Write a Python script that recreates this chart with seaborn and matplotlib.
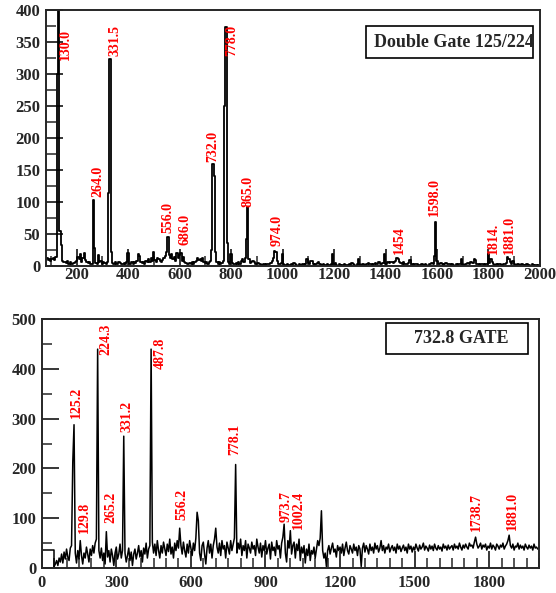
import numpy as np
import matplotlib
matplotlib.use("Agg")
import matplotlib.pyplot as plt
from matplotlib.patches import Rectangle
from matplotlib.ticker import MultipleLocator
import seaborn as sns

# ---- top panel: double gate 125/224, 5 keV bins from 80 keV ----
top_start, bin_w = 80, 5
top_counts = [
    10, 12, 9, 11, 8, 10, 12, 9, 14, 300, 420, 55, 32, 8, 5, 6, 4, 7, 3, 5,
    3, 2, 4, 6, 8, 14, 10, 18, 6, 12, 20, 9, 5, 4, 6, 3, 2, 103, 28, 4,
    3, 17, 5, 8, 3, 6, 4, 2, 5, 114, 324, 22, 4, 2, 5, 3, 2, 6, 4, 3,
    2, 4, 3, 5, 20, 3, 2, 5, 3, 6, 4, 8, 18, 15, 6, 4, 5, 3, 8, 6,
    10, 6, 12, 8, 22, 9, 6, 12, 10, 8, 5, 9, 12, 15, 22, 45, 16, 12, 18, 10,
    14, 8, 20, 12, 16, 20, 8, 14, 6, 4, 3, 2, 4, 3, 5, 2, 6, 8, 12, 9,
    10, 7, 12, 5, 4, 6, 3, 5, 8, 25, 159, 140, 22, 6, 3, 5, 2, 4, 8, 250,
    373, 36, 5, 3, 18, 4, 3, 2, 4, 2, 5, 3, 8, 10, 6, 12, 42, 92, 10, 4,
    6, 8, 5, 3, 2, 4, 3, 2, 1, 2, 3, 1, 2, 3, 2, 4, 8, 12, 23, 21,
    8, 3, 2, 4, 18, 3, 1, 0, 2, 1, 0, 2, 1, 4, 3, 1, 0, 2, 1, 0,
    2, 1, 3, 10, 4, 2, 8, 7, 3, 1, 2, 4, 6, 2, 1, 0, 2, 1, 0, 2,
    1, 0, 2, 19, 3, 4, 1, 0, 2, 1, 0, 1, 2, 0, 1, 0, 3, 1, 4, 2,
    1, 0, 2, 10, 2, 1, 3, 2, 1, 3, 2, 4, 3, 2, 1, 3, 4, 2, 3, 5,
    2, 3, 4, 19, 2, 3, 5, 4, 6, 5, 4, 6, 8, 12, 10, 5, 4, 3, 5, 2,
    3, 2, 4, 9, 3, 2, 1, 2, 3, 2, 1, 0, 2, 3, 1, 2, 1, 0, 3, 2,
    4, 3, 15, 69, 8, 3, 2, 4, 3, 1, 2, 4, 3, 2, 3, 1, 2, 1, 0, 2,
    1, 3, 2, 10, 2, 1, 3, 2, 4, 3, 5, 6, 4, 10, 9, 3, 2, 1, 2, 3,
    2, 1, 3, 2, 19, 4, 10, 5, 3, 1, 2, 1, 3, 2, 1, 0, 2, 3, 4, 14,
    10, 6, 3, 8, 2, 1, 0, 2, 1, 0, 2, 1, 0, 1, 2, 0, 1, 0, 2, 1,
    0, 1, 0, 1,
]
top_labels = ["130.0", "264.0", "331.5", "556.0", "686.0", "732.0", "778.0",
              "865.0", "974.0", "1454", "1598.0", "1814.", "1881.0"]
top_label_x = [155, 284, 349, 554, 621, 728, 802, 866, 977, 1456, 1592, 1818, 1880]
top_label_y = [322, 107, 328, 51, 32, 163, 328, 92, 31, 19, 78, 19, 19]

# ---- bottom panel: 732.8 gate; one wide bin 0-50, then 5 keV bins ----
bot_first_edges = [0, 50]
bot_first_vals = [37, 0]
bot_start = 50
bot_counts = [
    3, 8, 15, 5, 20, 12, 28, 10, 32, 18, 38, 22, 15, 40, 45, 213, 288, 30, 10, 35,
    18, 55, 25, 8, 30, 20, 42, 28, 12, 38, 25, 45, 30, 50, 58, 440, 35, 20, 40, 15,
    30, 8, 73, 22, 35, 12, 38, 25, 5, 30, 42, 18, 28, 48, 20, 35, 265, 30, 12, 25,
    40, 15, 32, 5, 28, 38, 18, 30, 45, 22, 35, 12, 40, 28, 50, 20, 38, 45, 440, 52,
    30, 48, 25, 55, 35, 20, 45, 30, 52, 38, 25, 48, 33, 58, 28, 42, 20, 50, 35, 55,
    40, 80, 45, 28, 52, 35, 22, 48, 30, 55, 40, 25, 50, 35, 60, 112, 95, 30, 15, 45,
    52, 28, 8, 40, 55, 30, 48, 20, 45, 58, 80, 42, 30, 50, 25, 55, 38, 45, 20, 52,
    40, 28, 55, 35, 48, 60, 208, 30, 50, 38, 58, 25, 45, 35, 55, 20, 48, 40, 30, 52,
    38, 45, 25, 58, 42, 30, 50, 22, 45, 35, 55, 28, 40, 48, 18, 52, 35, 42, 25, 55,
    38, 45, 20, 50, 62, 88, 30, 12, 55, 40, 75, 28, 45, 52, 20, 48, 35, 58, 15, 42,
    30, 45, 10, 38, 25, 48, 15, 35, 28, 42, 20, 38, 55, 45, 60, 115, 35, 20, 30, 3,
    35, 45, 28, 40, 50, 32, 38, 22, 45, 35, 42, 30, 48, 25, 40, 52, 35, 28, 45, 38,
    30, 48, 35, 42, 25, 45, 38, 3, 40, 50, 32, 45, 38, 28, 48, 35, 42, 30, 50, 38,
    45, 32, 40, 55, 35, 45, 30, 42, 38, 48, 32, 40, 45, 35, 42, 30, 48, 38, 44, 33,
    40, 46, 35, 42, 30, 48, 38, 44, 32, 42, 36, 48, 40, 34, 46, 38, 42, 50, 36, 44,
    40, 34, 46, 38, 44, 35, 48, 40, 36, 45, 38, 42, 34, 48, 40, 44, 36, 46, 38, 42,
    45, 36, 48, 40, 44, 38, 50, 42, 36, 46, 40, 48, 42, 38, 50, 44, 46, 40, 52, 62,
    48, 40, 44, 50, 38, 46, 42, 48, 36, 44, 40, 50, 38, 46, 42, 36, 48, 44, 38, 46,
    42, 50, 38, 44, 48, 55, 66, 45, 40, 48, 36, 44, 42, 50, 38, 46, 40, 44, 36, 48,
    42, 38, 46, 40, 44, 36, 48, 40, 42, 38,
]
bot_labels = ["125.2", "129.8", "224.3", "265.2", "331.2", "487.8", "556.2",
              "778.1", "973.7", "1002.4", "1738.7", "1881.0"]
bot_label_x = [140, 170, 259, 278, 342, 476, 566, 778, 982, 1033, 1750, 1895]
bot_label_y = [301, 70, 428, 90, 274, 401, 96, 227, 93, 78, 75, 76]

top_energy = top_start + bin_w * np.arange(len(top_counts))
bot_energy = bot_start + bin_w * np.arange(len(bot_counts))

sns.set_style("ticks")
plt.rcParams["font.family"] = ["Liberation Serif", "DejaVu Serif"]
plt.rcParams["font.weight"] = "bold"

fig = plt.figure(figsize=(5.56, 5.93), dpi=100)
ax1 = fig.add_axes([0.0822, 0.552, 0.889, 0.431])
ax2 = fig.add_axes([0.075, 0.0422, 0.8944, 0.4194])

sns.lineplot(x=top_energy, y=top_counts, ax=ax1, color="black",
             linewidth=1.3, drawstyle="steps-mid", estimator=None)
sns.lineplot(x=bot_first_edges, y=bot_first_vals, ax=ax2, color="black",
             linewidth=1.1, drawstyle="steps-post", estimator=None)
sns.lineplot(x=bot_energy, y=bot_counts, ax=ax2, color="black",
             linewidth=1.1, estimator=None)

ax1.set_xlim(80, 2000)
ax1.set_ylim(0, 400)
ax1.xaxis.set_major_locator(MultipleLocator(200))
ax1.xaxis.set_minor_locator(MultipleLocator(100))
ax1.yaxis.set_major_locator(MultipleLocator(50))
ax1.yaxis.set_minor_locator(MultipleLocator(25))

ax2.set_xlim(0, 2000)
ax2.set_ylim(0, 500)
ax2.set_xticks([0, 300, 600, 900, 1200, 1500, 1800])
ax2.xaxis.set_minor_locator(MultipleLocator(50))
ax2.yaxis.set_major_locator(MultipleLocator(100))
ax2.yaxis.set_minor_locator(MultipleLocator(50))

for ax in (ax1, ax2):
    for s in ax.spines.values():
        s.set_linewidth(1.4)
        s.set_visible(True)
    ax.tick_params(which="major", direction="in", length=12, width=1.3,
                   labelsize=12, pad=4)
    ax.tick_params(which="minor", direction="in", length=7, width=1.1)
    ax.set_xlabel("")
    ax.set_ylabel("")
    for lab in ax.get_xticklabels() + ax.get_yticklabels():
        lab.set_fontweight("bold")
ax1.tick_params(axis="x", which="major", pad=1)
ax2.tick_params(axis="x", which="major", pad=5)

for t, x, y in zip(top_labels, top_label_x, top_label_y):
    ax1.text(x, y, t, color="red", rotation=90, ha="center", va="bottom",
             fontsize=10, fontweight="bold")
for t, x, y in zip(bot_labels, bot_label_x, bot_label_y):
    ax2.text(x, y, t, color="red", rotation=90, ha="center", va="bottom",
             fontsize=10, fontweight="bold")

ax1.add_patch(Rectangle((0.649, 0.811), 0.337, 0.126, transform=ax1.transAxes,
                        facecolor="white", edgecolor="black", linewidth=1.2, zorder=5))
ax1.text(0.826, 0.875, "Double Gate 125/224", transform=ax1.transAxes,
         ha="center", va="center", fontsize=13, fontweight="bold", zorder=6)
ax2.add_patch(Rectangle((0.692, 0.860), 0.286, 0.126, transform=ax2.transAxes,
                        facecolor="white", edgecolor="black", linewidth=1.2, zorder=5))
ax2.text(0.843, 0.921, "732.8 GATE", transform=ax2.transAxes,
         ha="center", va="center", fontsize=13, fontweight="bold", zorder=6)

fig.savefig("out.png", dpi=100)
